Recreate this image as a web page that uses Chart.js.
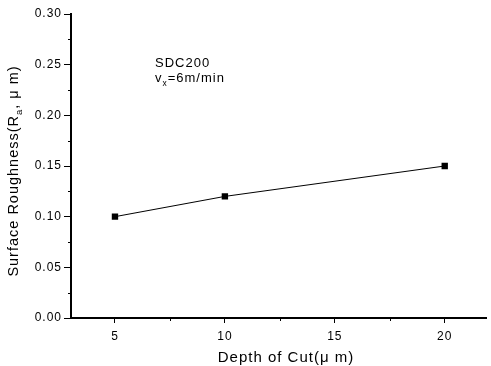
<!DOCTYPE html>
<html>
<head>
<meta charset="utf-8">
<script src="https://cdn.jsdelivr.net/npm/chart.js@4/dist/chart.umd.min.js"></script>
<style>
  html, body { margin: 0; padding: 0; background: #fff; }
  #wrap { width: 491px; height: 366px; }
</style>
</head>
<body>
<div id="wrap"><canvas id="chart1"></canvas></div>
<script>
// ----------------------- DATA -----------------------
const depthOfCut = [5, 10, 20];
const roughness = [0.10, 0.12, 0.15];
const xTicks = [5, 10, 15, 20];
const yTicks = [0.00, 0.05, 0.10, 0.15, 0.20, 0.25, 0.30];

const FONT = "'Liberation Sans', Arial, sans-serif";

// draw text with sub parts lowered and smaller
function drawSubText(ctx, parts, x, y, size) {
  let cx = x;
  parts.forEach((p) => {
    if (p.sub) {
      ctx.font = (size * 0.65) + "px " + FONT;
      ctx.fillText(p.t, cx, y + size * 0.3);
    } else {
      ctx.font = size + "px " + FONT;
      ctx.fillText(p.t, cx, y);
    }
    cx += ctx.measureText(p.t).width;
  });
  return cx - x;
}

function measureSub(ctx, parts, size) {
  let w = 0;
  parts.forEach((p) => {
    ctx.font = (p.sub ? size * 0.65 : size) + "px " + FONT;
    w += ctx.measureText(p.t).width;
  });
  return w;
}

// wider letter spacing for all the text
const spacing = {
  id: "spacing",
  beforeInit(chart) { chart.ctx.letterSpacing = "1px"; },
  beforeUpdate(chart) { chart.ctx.letterSpacing = "1px"; },
  beforeDraw(chart) { chart.ctx.letterSpacing = "1px"; },
};

// minor ticks, axis titles and the note in the plot
const extras = {
  id: "extras",
  afterDraw(chart) {
    const { ctx, chartArea: { top, bottom, left }, scales: { x, y } } = chart;
    ctx.save();
    ctx.strokeStyle = "#000";
    ctx.lineWidth = 1;
    ctx.beginPath();
    [7.5, 12.5, 17.5].forEach((v) => {
      const px = Math.round(x.getPixelForValue(v)) + 0.5;
      ctx.moveTo(px, bottom);
      ctx.lineTo(px, bottom + 3);
    });
    [0.025, 0.075, 0.125, 0.175, 0.225, 0.275].forEach((v) => {
      const py = Math.round(y.getPixelForValue(v)) + 0.5;
      ctx.moveTo(left, py);
      ctx.lineTo(left - 3, py);
    });
    ctx.stroke();

    ctx.fillStyle = "#000";
    ctx.textBaseline = "alphabetic";
    ctx.textAlign = "left";
    ctx.letterSpacing = "1px";

    // y title
    const yParts = [{ t: "Surface Roughness(R" }, { t: "a", sub: true }, { t: ", μ m)" }];
    const yw = measureSub(ctx, yParts, 14.5);
    ctx.save();
    ctx.translate(17.5, 171 + yw / 2);
    ctx.rotate(-Math.PI / 2);
    drawSubText(ctx, yParts, 0, 0, 14.5);
    ctx.restore();

    // x title
    ctx.font = "15px " + FONT;
    ctx.textAlign = "center";
    ctx.fillText("Depth of Cut(μ m)", 286, 362);
    ctx.textAlign = "left";

    // note
    ctx.font = "13px " + FONT;
    ctx.fillText("SDC200", 155, 67);
    drawSubText(ctx, [{ t: "v" }, { t: "x", sub: true }, { t: "=6m/min" }], 155, 82, 13);
    ctx.restore();
  },
};

new Chart(document.getElementById("chart1"), {
  type: "scatter",
  data: {
    datasets: [
      {
        data: depthOfCut.map((d, i) => ({ x: d, y: roughness[i] })),
        showLine: true,
        borderColor: "#000",
        borderWidth: 1,
        backgroundColor: "#000",
        pointStyle: "rect",
        pointRadius: 4.5,
        pointBorderWidth: 0,
      },
    ],
  },
  options: {
    responsive: true,
    maintainAspectRatio: false,
    animation: false,
    layout: { padding: { top: 14, right: 2, left: 0, bottom: 0 } },
    plugins: { legend: { display: false }, tooltip: { enabled: false } },
    scales: {
      x: {
        type: "linear",
        min: 3,
        max: 21.9,
        afterBuildTicks: (s) => { s.ticks = xTicks.map((v) => ({ value: v })); },
        afterFit: (s) => { s.height = 48; },
        border: { color: "#000", width: 2 },
        grid: { drawOnChartArea: false, tickLength: 5, color: "#000" },
        ticks: { color: "#000", font: { family: FONT, size: 12 }, padding: 6, maxRotation: 0 },
      },
      y: {
        min: 0,
        max: 0.3,
        afterBuildTicks: (s) => { s.ticks = yTicks.map((v) => ({ value: v })); },
        afterFit: (s) => { s.width = 71; },
        border: { color: "#000", width: 2 },
        grid: { drawOnChartArea: false, tickLength: 7, color: "#000" },
        ticks: {
          color: "#000",
          font: { family: FONT, size: 12 },
          padding: 2,
          callback: (v) => v.toFixed(2),
        },
      },
    },
  },
  plugins: [spacing, extras],
});
</script>
</body>
</html>
